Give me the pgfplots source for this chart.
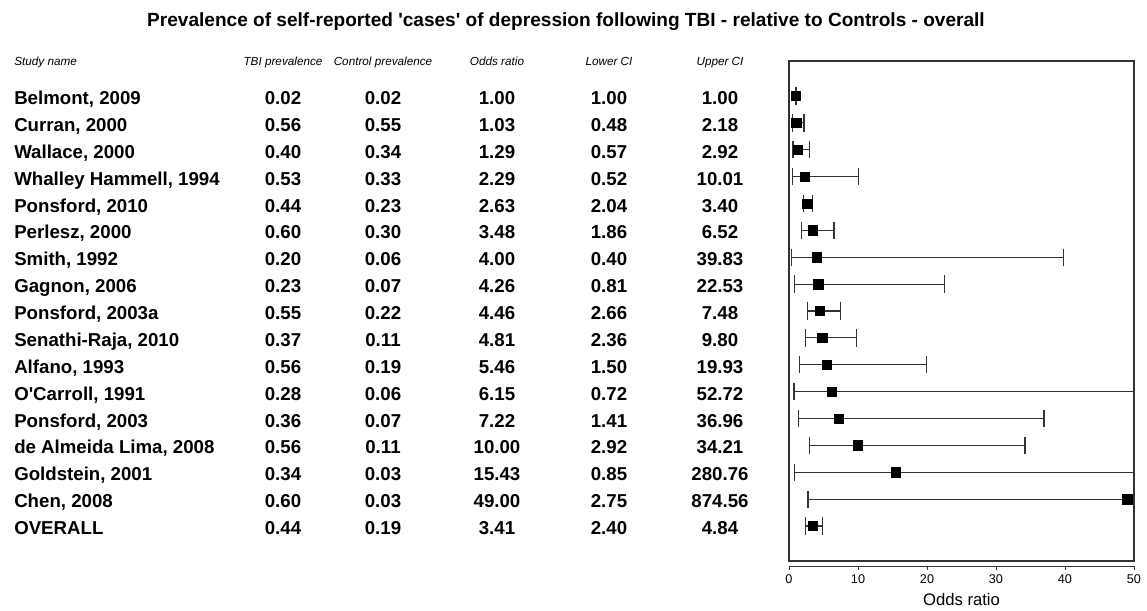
\documentclass[border=0pt]{standalone}
\usepackage{pgfplots}
\pgfplotsset{compat=1.18}
\usepackage{pgfplotstable}
\usepackage{fontspec}
\setmainfont{Liberation Sans}

\pgfplotstableread[col sep=comma]{
row,or,lo,hi
17,1.00,1.00,1.00
16,1.03,0.48,2.18
15,1.29,0.57,2.92
14,2.29,0.52,10.01
13,2.63,2.04,3.40
12,3.48,1.86,6.52
11,4.00,0.40,39.83
10,4.26,0.81,22.53
9,4.46,2.66,7.48
8,4.81,2.36,9.80
7,5.46,1.50,19.93
6,6.15,0.72,52.72
5,7.22,1.41,36.96
4,10.00,2.92,34.21
3,15.43,0.85,280.76
2,49.00,2.75,874.56
1,3.41,2.40,4.84
}\fdata

\begin{document}
\begin{tikzpicture}
\begin{scope}[x=0.75pt,y=-0.75pt,every node/.append style={inner sep=0pt}]
\path[use as bounding box] (0,0) rectangle (1147,610);
\node[anchor=base, font=\bfseries\fontsize{14.3}{16}\selectfont] at (566,26) {Prevalence of self-reported \textquotesingle cases\textquotesingle{} of depression following TBI - relative to Controls - overall};
\begin{scope}[every node/.append style={font=\itshape\fontsize{8.8}{10}\selectfont}]
\node[anchor=base west] at (14,65) {Study name};
\node[anchor=base] at (283,65) {TBI prevalence};
\node[anchor=base] at (383,65) {Control prevalence};
\node[anchor=base] at (497,65) {Odds ratio};
\node[anchor=base] at (609,65) {Lower CI};
\node[anchor=base] at (720,65) {Upper CI};
\end{scope}
\begin{scope}[every node/.append style={font=\bfseries\fontsize{14}{16}\selectfont}]
\foreach \n/\a/\b/\c/\d/\e [count=\i from 0] in {
{Belmont, 2009}/0.02/0.02/1.00/1.00/1.00,
{Curran, 2000}/0.56/0.55/1.03/0.48/2.18,
{Wallace, 2000}/0.40/0.34/1.29/0.57/2.92,
{Whalley Hammell, 1994}/0.53/0.33/2.29/0.52/10.01,
{Ponsford, 2010}/0.44/0.23/2.63/2.04/3.40,
{Perlesz, 2000}/0.60/0.30/3.48/1.86/6.52,
{Smith, 1992}/0.20/0.06/4.00/0.40/39.83,
{Gagnon, 2006}/0.23/0.07/4.26/0.81/22.53,
{Ponsford, 2003a}/0.55/0.22/4.46/2.66/7.48,
{Senathi-Raja, 2010}/0.37/0.11/4.81/2.36/9.80,
{Alfano, 1993}/0.56/0.19/5.46/1.50/19.93,
{O\textquotesingle Carroll, 1991}/0.28/0.06/6.15/0.72/52.72,
{Ponsford, 2003}/0.36/0.07/7.22/1.41/36.96,
{de Almeida Lima, 2008}/0.56/0.11/10.00/2.92/34.21,
{Goldstein, 2001}/0.34/0.03/15.43/0.85/280.76,
{Chen, 2008}/0.60/0.03/49.00/2.75/874.56,
{OVERALL}/0.44/0.19/3.41/2.40/4.84}{
\pgfmathsetmacro\yy{96+\i*26.875+8.5}
\node[anchor=base west] at (14,\yy) {\n};
\node[anchor=base] at (283,\yy) {\a};
\node[anchor=base] at (383,\yy) {\b};
\node[anchor=base] at (497,\yy) {\c};
\node[anchor=base] at (609,\yy) {\d};
\node[anchor=base] at (720,\yy) {\e};
}
\end{scope}
\end{scope}

\begin{axis}[
  at={(591.75pt,-420.75pt)}, anchor=south west,
  width=258.75pt, height=375pt, scale only axis,
  xmin=0, xmax=50, ymin=-0.3, ymax=18.3,
  xtick=\empty, ytick=\empty,
  axis line style={black!80, line width=0.8pt},
]
\addplot[only marks, mark=square*, mark size=3.5pt, mark options={black, fill=black},
  error bars/.cd, x dir=both, x explicit,
  error bar style={black!80, line width=0.85pt},
  error mark options={rotate=90, black!80, line width=0.85pt, mark size=6.5pt}]
  table[x=or, y=row,
        x error plus expr={max(\thisrow{hi}-\thisrow{or},0.005)},
        x error minus expr={max(\thisrow{or}-\thisrow{lo},0.005)}] {\fdata};
\end{axis}

\begin{axis}[
  at={(591.75pt,-424.5pt)}, anchor=south west,
  width=258.75pt, height=10pt, scale only axis,
  xmin=0, xmax=50, ymin=0, ymax=1,
  axis x line*=bottom, axis y line=none,
  xtick={0,10,20,30,40,50},
  tick align=outside, major tick length=3pt,
  x axis line style={black!80, line width=0.6pt},
  xtick style={black!80, line width=0.6pt},
  /pgf/number format/assume math mode=true,
  tick label style={font=\fontsize{9.5}{11}\selectfont, black},
  xlabel={Odds ratio},
  xlabel style={font=\fontsize{12.5}{14}\selectfont, yshift=-0.5pt},
]
\end{axis}
\end{tikzpicture}
\end{document}
